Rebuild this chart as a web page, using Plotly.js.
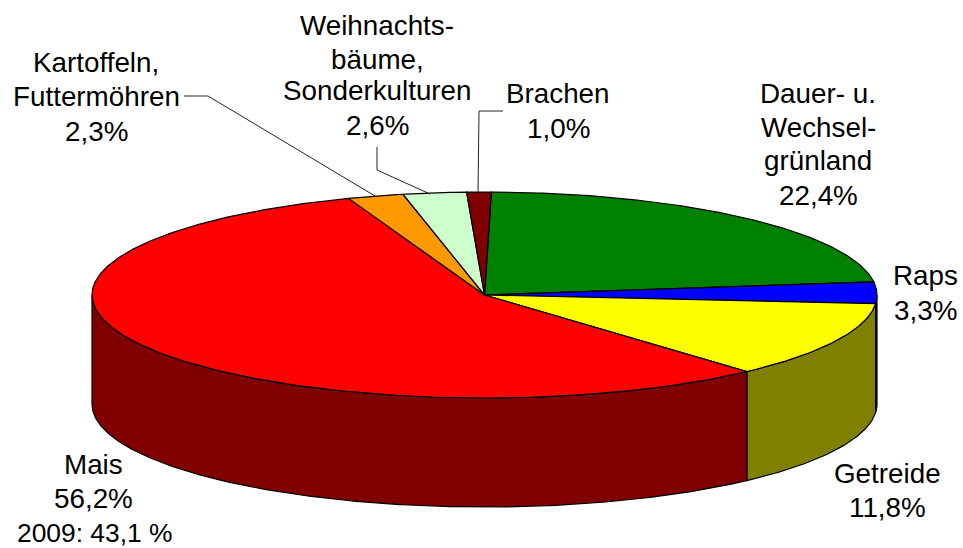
<!DOCTYPE html>
<html>
<head>
<meta charset="utf-8">
<script src="https://cdn.plot.ly/plotly-3.0.1.min.js"></script>
<style>html,body{margin:0;padding:0;background:#fff}#chart{width:963px;height:548px}</style>
</head>
<body>
<div id="chart"></div>
<script>
// Data
var categories = ["Dauer- u. Wechselgrünland", "Raps", "Getreide", "Mais", "Kartoffeln, Futtermöhren", "Weihnachtsbäume, Sonderkulturen", "Brachen"];
var values = [22.4, 3.3, 11.8, 56.2, 2.3, 2.6, 1.0];
var topColors = ["#008000", "#0000ff", "#ffff00", "#ff0000", "#ff9900", "#ccffcc", "#800000"];
var sideColors = ["#004000", "#000080", "#808000", "#800000", "#804c00", "#668066", "#400000"];

// Label text, one entry per line
var labelLines = [
  ["Dauer- u.", "Wechsel-", "grünland", "22,4%"],
  ["Raps", "3,3%"],
  ["Getreide", "11,8%"],
  ["Mais", "56,2%"],
  ["Kartoffeln,", "Futtermöhren", "2,3%"],
  ["Weihnachts-", "bäume,", "Sonderkulturen", "2,6%"],
  ["Brachen", "1,0%"]
];
var noteText = "2009: 43,1 %";

// Layout geometry (pixel space)
var cx = 484.5, cy = 295, rx = 392.5, ry = 103, depth = 109;
var startDeg = 1.88, perspectiveDeg = 0.88;
var labelX = [818, 925, 887, 93, 96, 377, 558];
var labelY = [[93, 127, 160, 195], [275, 310], [473, 507], [464, 498], [62, 96, 131], [25, 59, 90, 125], [93, 128]];
var leaderPaths = [
  "M184,96 L208,96 L375,196",
  "M377,147 L377,170 L430,194",
  "M503,111 L479,111 L478,193"
];

var total = values.reduce(function (a, b) { return a + b; }, 0);
// Slice boundaries from the values; a slight angular shift mimics the 3D view's perspective.
function viewAngle(d) { return d + startDeg - perspectiveDeg * Math.cos(d * Math.PI / 180); }
var bounds = [0];
values.forEach(function (v, i) { bounds.push(bounds[i] + v / total * 360); });
bounds = bounds.map(viewAngle);

function px(d) { return cx + rx * Math.sin(d * Math.PI / 180); }
function py(d) { return cy - ry * Math.cos(d * Math.PI / 180); }

var traces = [];
function poly(xs, ys, fill) {
  traces.push({
    type: "scatter", mode: "lines", x: xs, y: ys, fill: "toself", fillcolor: fill,
    line: { color: "#000000", width: 1.2, shape: "linear" }, hoverinfo: "skip", showlegend: false
  });
}

// Side walls: only the part of each slice on the front half (90..270 deg from top)
values.forEach(function (v, i) {
  var a = Math.max(bounds[i], 90), b = Math.min(bounds[i + 1], 270);
  if (b <= a) return;
  var xs = [], ys = [], n = Math.max(2, Math.ceil((b - a) * 2));
  for (var k = 0; k <= n; k++) {
    var d = a + (b - a) * k / n;
    xs.push(px(d)); ys.push(py(d));
  }
  for (var k2 = n; k2 >= 0; k2--) {
    var d2 = a + (b - a) * k2 / n;
    xs.push(px(d2)); ys.push(py(d2) + depth);
  }
  xs.push(xs[0]); ys.push(ys[0]);
  poly(xs, ys, sideColors[i]);
});

// Top face
values.forEach(function (v, i) {
  var a = bounds[i], b = bounds[i + 1];
  var xs = [cx], ys = [cy], n = Math.max(2, Math.ceil((b - a) * 2));
  for (var k = 0; k <= n; k++) {
    var d = a + (b - a) * k / n;
    xs.push(px(d)); ys.push(py(d));
  }
  xs.push(cx); ys.push(cy);
  poly(xs, ys, topColors[i]);
});

var font = { family: "Liberation Sans, Arial, sans-serif", size: 27.8, color: "#000000" };
var annotations = [];
labelLines.forEach(function (lines, i) {
  lines.forEach(function (t, j) {
    annotations.push({
      x: labelX[i], y: labelY[i][j], xref: "x", yref: "y", text: t, showarrow: false,
      xanchor: "center", yanchor: "middle", font: font
    });
  });
});
annotations.push({
  x: 94.5, y: 533, xref: "x", yref: "y", text: noteText, showarrow: false,
  xanchor: "center", yanchor: "middle",
  font: { family: font.family, size: 26.4, color: "#000000" }
});

var shapes = leaderPaths.map(function (p) {
  return { type: "path", path: p, xref: "x", yref: "y", line: { color: "#222222", width: 1 } };
});

var axis = { visible: false, fixedrange: true, showgrid: false, zeroline: false };
Plotly.newPlot("chart", traces, {
  width: 963, height: 548,
  margin: { l: 0, r: 0, t: 0, b: 0 },
  paper_bgcolor: "#ffffff", plot_bgcolor: "#ffffff",
  showlegend: false,
  xaxis: Object.assign({ range: [0, 963] }, axis),
  yaxis: Object.assign({ range: [548, 0] }, axis),
  annotations: annotations,
  shapes: shapes
}, { displayModeBar: false, staticPlot: true });
</script>
</body>
</html>
